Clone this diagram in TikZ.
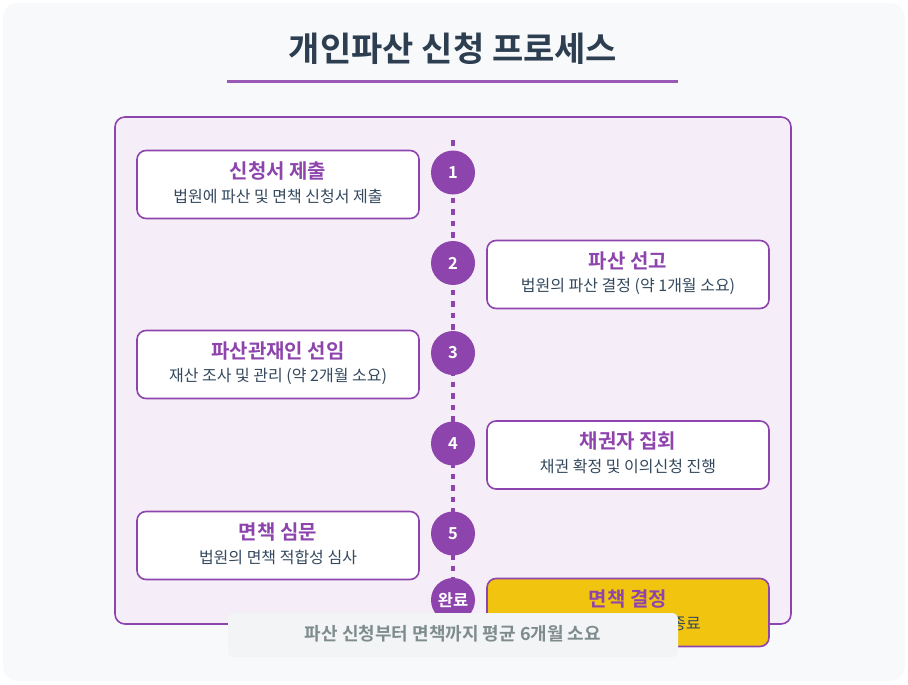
\documentclass[tikz,border=0pt]{standalone}
\usepackage{fontspec}
\setmainfont{Noto Sans CJK KR}
\newfontfamily\kbold{Noto Sans CJK KR Bold}
\definecolor{purp}{HTML}{8E44AD}
\definecolor{purpl}{HTML}{9B59B6}
\definecolor{panel}{HTML}{F5EEF8}
\definecolor{pagebg}{HTML}{F8F9FA}
\definecolor{dark}{HTML}{2C3E50}
\definecolor{sub}{HTML}{34495E}
\definecolor{notebg}{HTML}{F3F4F5}
\definecolor{notefg}{HTML}{7F8C8D}
\definecolor{gold}{HTML}{F1C40F}
\tikzset{
  stepbox/.style={draw=purp, line width=1.6pt, fill=white, rounded corners=9pt,
    minimum width=282pt, minimum height=68pt, inner sep=0pt},
  donebox/.style={stepbox, fill=gold},
  numdot/.style={circle, fill=purp, minimum size=44pt, inner sep=0pt,
    text=white, font=\kbold\fontsize{16.5}{18}\selectfont},
  stitle/.style={text=purp, font=\kbold\fontsize{20}{24}\selectfont, inner sep=0pt},
  sdesc/.style={text=sub, font=\fontsize{16}{19}\selectfont, inner sep=0pt},
}
\begin{document}
\begin{tikzpicture}[x=1pt,y=-1pt]
\useasboundingbox (0,0) rectangle (908,685);
% page background
\fill[pagebg, rounded corners=15pt] (3,3) rectangle (905,681);
% title
\node[text=dark, font=\kbold\fontsize{34}{40}\selectfont, inner sep=0pt] (title) at (453,49) {개인파산 신청 프로세스};
\draw[purpl, line width=3pt] (227,82) -- (678,82);
% panel
\draw[draw=purp, fill=panel, line width=1.6pt, rounded corners=10pt] (115,117) rectangle (791,624);
% timeline
\coordinate (tl0) at (453,140);
\coordinate (tl1) at (453,595);
\draw[purp, line width=3.5pt, dash pattern=on 5.5pt off 6pt] (tl0) -- (tl1);
% circles
\node[numdot] (c1) at (453,172.5) {1};
\node[numdot] (c2) at (453,263) {2};
\node[numdot] (c3) at (453,353) {3};
\node[numdot] (c4) at (453,443.5) {4};
\node[numdot] (c5) at (453,533.5) {5};
\node[numdot] (c6) at (453,600) {완료};
% boxes
\node[stepbox] (b1) at (278,184.5) {};
\node[stitle] (t1) at (278,171) {신청서 제출};
\node[sdesc] (d1) at (278,196) {법원에 파산 및 면책 신청서 제출};
\node[stepbox] (b2) at (628,274.5) {};
\node[stitle] (t2) at (628,261) {파산 선고};
\node[sdesc] (d2) at (628,286) {법원의 파산 결정 (약 1개월 소요)};
\node[stepbox] (b3) at (278,364.5) {};
\node[stitle] (t3) at (278,351) {파산관재인 선임};
\node[sdesc] (d3) at (278,376) {재산 조사 및 관리 (약 2개월 소요)};
\node[stepbox] (b4) at (628,455) {};
\node[stitle] (t4) at (628,441.5) {채권자 집회};
\node[sdesc] (d4) at (628,466.5) {채권 확정 및 이의신청 진행};
\node[stepbox] (b5) at (278,545.5) {};
\node[stitle] (t5) at (278,532) {면책 심문};
\node[sdesc] (d5) at (278,557) {법원의 면책 적합성 심사};
\node[donebox] (b6) at (628,612.5) {};
\node[stitle] (t6) at (628,599) {면책 결정};
\node[sdesc, anchor=east] (d6) at (701,624) {종료};
% note
\node[fill=notebg, rounded corners=6pt, minimum width=450pt, minimum height=44pt, inner sep=0pt] (note) at (453,635) {};
\node[text=notefg, font=\kbold\fontsize{18}{21}\selectfont, inner sep=0pt] (notetext) at (453,634) {파산 신청부터 면책까지 평균 6개월 소요};
\end{tikzpicture}
\end{document}
